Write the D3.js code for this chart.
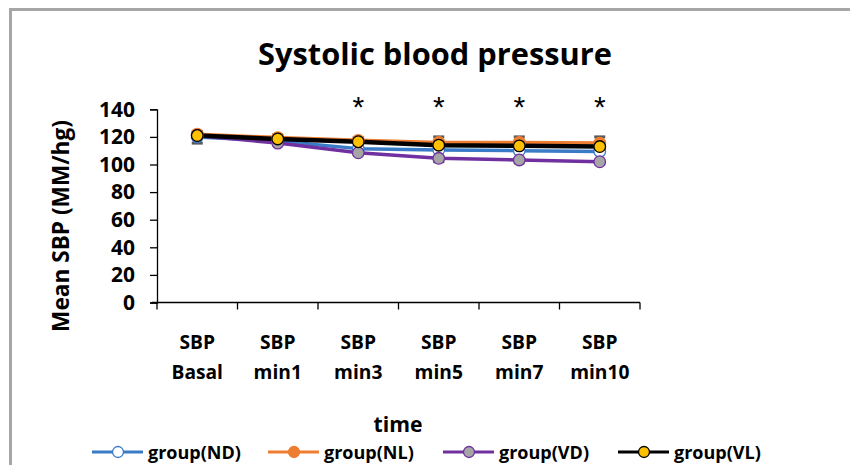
<!DOCTYPE html>
<html>
<head>
<meta charset="utf-8">
<script src="https://cdn.jsdelivr.net/npm/d3@7"></script>
<style>
  html, body { margin: 0; padding: 0; background: #fff; }
  svg { display: block; }
  text { font-family: "Open Sans", Lato, sans-serif; font-weight: bold; fill: #000; }
</style>
</head>
<body>
<svg id="chart" width="850" height="465"></svg>
<script>
// ---- data ----
const categories = ["SBP Basal", "SBP min1", "SBP min3", "SBP min5", "SBP min7", "SBP min10"];
const seriesNames = ["group(ND)", "group(NL)", "group(VD)", "group(VL)"];
const valuesND = [120, 117, 111.5, 110.5, 110, 109.5];
const valuesNL = [122, 119.5, 117.5, 116, 116, 115.5];
const valuesVD = [121, 115.5, 108.5, 104.5, 103.3, 102];
const valuesVL = [121, 118.5, 116.5, 114, 113.5, 113];
const errPlusNL = [2, 2, 2, 4, 4, 4.5];
const errMinusVD = [5.5, 1.5, 1.5, 2.5, 2, 1.5];
const sigMarks = ["", "", "*", "*", "*", "*"];
const yTicks = [0, 20, 40, 60, 80, 100, 120, 140];
const titleText = "Systolic blood pressure";
const xTitle = "time";
const yTitle = "Mean SBP (MM/hg)";

// ---- styles ----
const styles = [
  { line: "#3a7bc8", fill: "#ffffff", stroke: "#3a7bc8", lw: 3.5 },
  { line: "#ed7d31", fill: "#ed7d31", stroke: "#ed7d31", lw: 3.5 },
  { line: "#7030a0", fill: "#a5a5a5", stroke: "#7030a0", lw: 3.5 },
  { line: "#000000", fill: "#ffc000", stroke: "#000000", lw: 4.5 }
];
const seriesValues = [valuesND, valuesNL, valuesVD, valuesVL];

const svg = d3.select("#chart");

function fitSize(node, target, base) {
  const w = node.getComputedTextLength();
  return base * target / w;
}

// frame
svg.append("path")
  .attr("d", "M10.5,900 L10.5,9.5 L900,9.5")
  .attr("fill", "none").attr("stroke", "#a6a6a6").attr("stroke-width", 3);

const plotL = 157, plotR = 640, plotT = 109.3, plotB = 302.5;

const x = d3.scaleBand().domain(categories).range([plotL, plotR]).padding(0);
const y = d3.scaleLinear().domain([0, 140]).range([plotB, plotT]);
const cx = c => x(c) + x.bandwidth() / 2;

// y axis
const yAxis = svg.append("g").attr("transform", `translate(${plotL},0)`)
  .call(d3.axisLeft(y).tickValues(yTicks).tickSize(7).tickPadding(15));
yAxis.select(".domain").attr("stroke", "#000").attr("stroke-width", 1.3);
yAxis.selectAll(".tick line").attr("stroke", "#000").attr("stroke-width", 1.3);
const yt = yAxis.selectAll(".tick text").style("font-family", "'Open Sans'").style("font-weight", "bold")
  .style("font-size", "18px").attr("fill", "#000");
{
  const n = yt.filter(d => d === 140).node();
  const fs = fitSize(n, 36, 18);
  yt.style("font-size", fs + "px");
}

// x axis (ticks between categories)
const xAxis = svg.append("g").attr("transform", `translate(0,${plotB})`);
xAxis.append("line").attr("x1", plotL - 5).attr("x2", plotR).attr("stroke", "#000").attr("stroke-width", 1.3);
const boundaries = categories.map(c => x(c)).concat([x(categories[categories.length - 1]) + x.bandwidth()]);
xAxis.selectAll("line.tk").data(boundaries).join("line").attr("class", "tk")
  .attr("x1", d => d).attr("x2", d => d).attr("y1", 0).attr("y2", 7)
  .attr("stroke", "#000").attr("stroke-width", 1.3);
const xl = xAxis.selectAll("text.xl").data(categories).join("text").attr("class", "xl")
  .attr("x", d => cx(d)).attr("text-anchor", "middle").style("font-size", "18px");
xl.append("tspan").attr("x", d => cx(d)).attr("y", 46).text(d => d.split(" ")[0]);
xl.append("tspan").attr("x", d => cx(d)).attr("y", 76).text(d => d.split(" ")[1]);
{
  const probe = svg.append("text").style("font-size", "18px").text("SBP Basal");
  const fs = fitSize(probe.node(), 92, 18);
  probe.remove();
  xl.style("font-size", fs + "px");
}

// lines
const line = d3.line().x((d, i) => cx(categories[i])).y(d => y(d));
seriesValues.forEach((vals, s) => {
  svg.append("path").datum(vals).attr("d", line)
    .attr("fill", "none").attr("stroke", styles[s].line).attr("stroke-width", styles[s].lw)
    .attr("stroke-linejoin", "round");
});

// error bars
function errBars(vals, errs, dir) {
  const g = svg.append("g");
  vals.forEach((v, i) => {
    const xc = cx(categories[i]);
    const end = v + dir * errs[i];
    g.append("line").attr("x1", xc).attr("x2", xc).attr("y1", y(v)).attr("y2", y(end))
      .attr("stroke", "#595959").attr("stroke-width", 1.5);
    g.append("line").attr("x1", xc - 5.5).attr("x2", xc + 5.5).attr("y1", y(end)).attr("y2", y(end))
      .attr("stroke", "#595959").attr("stroke-width", 3);
  });
}
errBars(valuesNL, errPlusNL, 1);
errBars(valuesVD, errMinusVD, -1);

// markers
seriesValues.forEach((vals, s) => {
  svg.append("g").selectAll("circle").data(vals).join("circle")
    .attr("cx", (d, i) => cx(categories[i])).attr("cy", d => y(d)).attr("r", 5.8)
    .attr("fill", styles[s].fill).attr("stroke", styles[s].stroke).attr("stroke-width", 1.3);
});

// significance marks
svg.append("g").selectAll("text").data(sigMarks).join("text")
  .attr("x", (d, i) => cx(categories[i])).attr("y", y(140) + 8)
  .attr("text-anchor", "middle").style("font-size", "30px").style("font-family", "'Liberation Sans'").style("font-weight", "normal")
  .text(d => d);

// title
const title = svg.append("text").attr("x", 435).attr("y", 65).attr("text-anchor", "middle")
  .style("font-size", "28px").text(titleText);
title.style("font-size", fitSize(title.node(), 354, 28) + "px");

// axis titles
const xt = svg.append("text").attr("x", 398).attr("y", 432).attr("text-anchor", "middle")
  .style("font-size", "20px").text(xTitle);
xt.style("font-size", fitSize(xt.node(), 49, 20) + "px");
const ytt = svg.append("text").attr("transform", "translate(69,226) rotate(-90)").attr("text-anchor", "middle")
  .style("font-size", "19px").text(yTitle);
ytt.style("font-size", fitSize(ytt.node(), 212, 19) + "px");

// legend
const legX = [92, 268, 443, 618];
const leg = svg.append("g");
const legTexts = [];
seriesNames.forEach((name, s) => {
  const lx = legX[s], ly = 452;
  leg.append("line").attr("x1", lx).attr("x2", lx + 51).attr("y1", ly).attr("y2", ly)
    .attr("stroke", styles[s].line).attr("stroke-width", 3);
  leg.append("circle").attr("cx", lx + 26).attr("cy", ly).attr("r", 5.5)
    .attr("fill", styles[s].fill).attr("stroke", styles[s].stroke).attr("stroke-width", 1.3);
  legTexts.push(leg.append("text").attr("x", lx + 56).attr("y", ly + 6.5).style("font-size", "18px").text(name));
});
{
  const fs = fitSize(legTexts[0].node(), 93, 18);
  legTexts.forEach(t => t.style("font-size", fs + "px"));
}
</script>
</body>
</html>
